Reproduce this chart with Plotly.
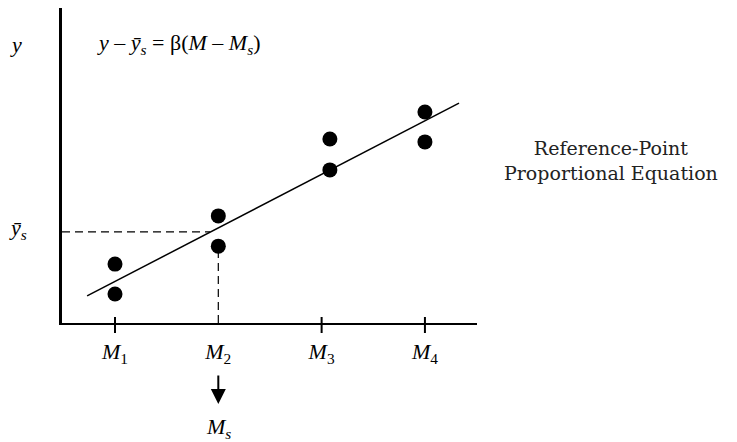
import plotly.graph_objects as go

# ---- data ----
categories = ["M1", "M2", "M3", "M4"]
cat_pos = [1, 2, 3, 4]
tick_labels = ["<i>M</i><sub>1</sub>", "<i>M</i><sub>2</sub>", "<i>M</i><sub>3</sub>", "<i>M</i><sub>4</sub>"]
point_x = [1.0, 1.0, 2.0, 2.0, 3.08, 3.08, 4.0, 4.0]
point_y = [1.87, 0.92, 3.40, 2.44, 5.84, 4.86, 6.70, 5.75]
line_x = [0.73, 4.33]
line_y = [0.86, 6.98]
ref_x = 2.0      # M_s
ref_y = 2.89     # y-bar_s
cross_tick_x = [1, 3, 4]

SERIF = "Liberation Serif, Times New Roman, serif"
FS = 22

# page body has an 8px default margin; plot area: left 62, top 8, 415 x 315 (page px)
PL, PT, PW, PH = 54, 0, 415, 315


def px(xpage):
    return (xpage - 8 - PL) / PW


def py(ypage):
    return 1 - (ypage - 8 - PT) / PH


fig = go.Figure()

# regression line
fig.add_trace(go.Scatter(x=line_x, y=line_y, mode="lines",
                         line=dict(color="black", width=1.5),
                         hoverinfo="skip", showlegend=False))
# points
fig.add_trace(go.Scatter(x=point_x, y=point_y, mode="markers",
                         marker=dict(color="black", size=15),
                         showlegend=False))

# dashed reference lines
fig.add_shape(type="line", xref="x", yref="y", x0=0.487, x1=ref_x - 0.08,
              y0=ref_y, y1=ref_y, line=dict(color="black", width=1.2, dash="8px,5px"))
fig.add_shape(type="line", xref="x", yref="y", x0=ref_x, x1=ref_x,
              y0=0, y1=ref_y - 0.25, line=dict(color="black", width=1.2, dash="8px,5px"))

# tick marks crossing the x axis
for tx in cross_tick_x:
    fig.add_shape(type="line", xref="x", yref="paper", x0=tx, x1=tx,
                  y0=-10 / PH, y1=6 / PH, line=dict(color="black", width=2))

# labels
fig.add_annotation(text="<i>y</i>", xref="paper", yref="paper",
                   x=px(16), y=py(44), xanchor="center", yanchor="middle", showarrow=False,
                   font=dict(family=SERIF, size=FS, color="black"))
fig.add_annotation(text="<i>y\u0304</i><sub><i>s</i></sub>", xref="paper", yref="y",
                   x=px(18), y=ref_y + 0.08, xanchor="center", yanchor="middle", showarrow=False,
                   font=dict(family=SERIF, size=FS, color="black"))
fig.add_annotation(text="<i>y</i> \u2013 <i>y\u0304</i><sub><i>s</i></sub> = \u03b2(<i>M</i> \u2013 <i>M</i><sub><i>s</i></sub>)",
                   xref="paper", yref="paper", x=px(95), y=py(44),
                   xanchor="left", yanchor="middle", showarrow=False,
                   font=dict(family=SERIF, size=FS, color="black"))

# arrow from M2 to M_s
fig.add_annotation(text="", xref="x", yref="paper", x=ref_x, y=py(404),
                   ax=0, ay=-30, showarrow=True, arrowhead=2, arrowsize=1.5,
                   arrowwidth=2, arrowcolor="black")
fig.add_annotation(text="<i>M</i><sub><i>s</i></sub>", xref="x", yref="paper",
                   x=ref_x, y=py(428), xanchor="center", yanchor="middle", showarrow=False,
                   font=dict(family=SERIF, size=FS, color="black"))

fig.add_annotation(text="Reference-Point<br>Proportional Equation",
                   xref="paper", yref="paper", x=px(611), y=py(160),
                   xanchor="center", yanchor="middle",
                   showarrow=False, align="center",
                   font=dict(family="DejaVu Serif, serif", size=19, color="#222"))

fig.update_xaxes(range=[0.487, 4.504], showline=True, linecolor="black", linewidth=2,
                 showgrid=False, zeroline=False, ticks="",
                 tickmode="array", tickvals=cat_pos, ticktext=tick_labels,
                 ticklabelstandoff=8,
                 tickfont=dict(family=SERIF, size=FS, color="black"))
fig.update_yaxes(range=[0, 10], showline=True, linecolor="black", linewidth=3,
                 showgrid=False, zeroline=False, showticklabels=False, ticks="")

fig.update_layout(width=737, height=442, plot_bgcolor="white", paper_bgcolor="white",
                  margin=dict(l=PL, r=737 - PL - PW, t=PT, b=442 - PT - PH), showlegend=False)

fig.write_html("out.html")
